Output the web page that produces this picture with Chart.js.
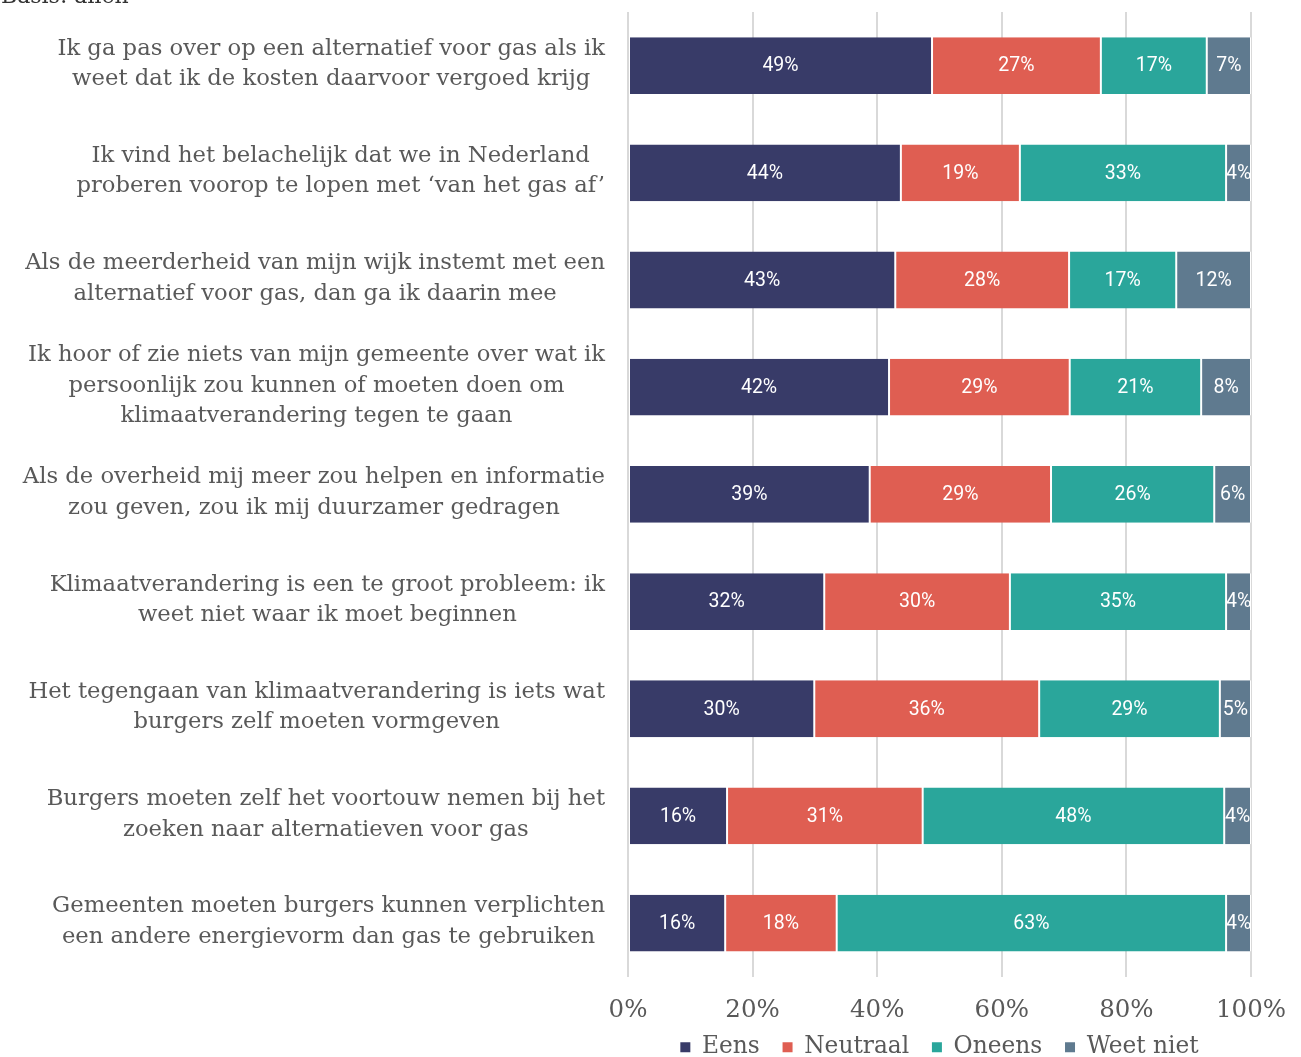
<!DOCTYPE html>
<html>
<head>
<meta charset="utf-8">
<script src="https://cdn.jsdelivr.net/npm/chart.js@4"></script>
<style>
  body { margin: 0; background: #fff; }
  #wrap { position: relative; width: 1301px; height: 1057px; overflow: hidden; }
  #box { position: absolute; left: 0; top: 0; width: 1301px; height: 1069px; }
  #basis { position: absolute; left: 1px; top: -17px; font: 22px "DejaVu Serif", serif; color: #333; }
</style>
</head>
<body>
<div id="wrap">
  <div id="box"><canvas id="chart"></canvas></div>
  <div id="basis">Basis: allen</div>
</div>
<script>
const categories = [
  ["Ik ga pas over op een alternatief voor gas als ik", "weet dat ik de kosten daarvoor vergoed krijg"],
  ["Ik vind het belachelijk dat we in Nederland", "proberen voorop te lopen met ‘van het gas af’"],
  ["Als de meerderheid van mijn wijk instemt met een", "alternatief voor gas, dan ga ik daarin mee"],
  ["Ik hoor of zie niets van mijn gemeente over wat ik", "persoonlijk zou kunnen of moeten doen om", "klimaatverandering tegen te gaan"],
  ["Als de overheid mij meer zou helpen en informatie", "zou geven, zou ik mij duurzamer gedragen"],
  ["Klimaatverandering is een te groot probleem: ik", "weet niet waar ik moet beginnen"],
  ["Het tegengaan van klimaatverandering is iets wat", "burgers zelf moeten vormgeven"],
  ["Burgers moeten zelf het voortouw nemen bij het", "zoeken naar alternatieven voor gas"],
  ["Gemeenten moeten burgers kunnen verplichten", "een andere energievorm dan gas te gebruiken"]
];

const seriesNames = ["Eens", "Neutraal", "Oneens", "Weet niet"];
const eens     = [48.8, 43.8, 42.9, 41.9, 38.8, 31.5, 29.9, 15.9, 15.6];
const neutraal = [27.1, 19.1, 27.9, 29.0, 29.1, 29.8, 36.1, 31.4, 17.9];
const oneens   = [17.0, 33.1, 17.2, 21.1, 26.2, 34.7, 29.0, 48.4, 62.5];
const weetNiet = [7.1, 4.0, 12.0, 8.0, 5.9, 4.0, 5.0, 4.3, 4.0];
const xTicks = [0, 20, 40, 60, 80, 100];

const colors = ["#383b68", "#df5e52", "#2aa69b", "#5f7a8f"];
const serif = '"DejaVu Serif", serif';
const grey = "#595959";

// value labels inside each segment, clipped to the segment
const barLabels = {
  id: "barLabels",
  afterDatasetsDraw(chart) {
    const ctx = chart.ctx;
    chart.data.datasets.forEach((ds, i) => {
      chart.getDatasetMeta(i).data.forEach((bar, j) => {
        const { x, y, base, height } = bar.getProps(["x", "y", "base", "height"], true);
        ctx.save();
        ctx.beginPath();
        ctx.rect(base, y - height / 2, x - base, height);
        ctx.clip();
        ctx.fillStyle = "#fff";
        ctx.font = "19.5px Roboto";
        ctx.textAlign = "center";
        ctx.textBaseline = "middle";
        ctx.fillText(Math.round(ds.data[j]) + "%", (base + x) / 2, y + 1);
        ctx.restore();
      });
    });
  }
};

// category labels: block right-aligned, lines centred inside the block
const yLabels = {
  id: "yLabels",
  afterDraw(chart) {
    const scale = chart.scales.y;
    const ctx = chart.ctx;
    const lineH = 30.5;
    ctx.save();
    ctx.font = "22.7px " + serif;
    ctx.fillStyle = grey;
    ctx.textAlign = "center";
    ctx.textBaseline = "middle";
    const right = scale.right - 23;
    categories.forEach((lines, i) => {
      const w = Math.max(...lines.map((l) => ctx.measureText(l).width));
      const cx = right - w / 2;
      const yc = scale.getPixelForTick(i) - 1.5;
      lines.forEach((l, k) => {
        ctx.fillText(l, cx, yc + (k - (lines.length - 1) / 2) * lineH);
      });
    });
    ctx.restore();
  }
};

const datasets = [eens, neutraal, oneens, weetNiet].map((data, i) => ({
  label: seriesNames[i],
  data: data,
  backgroundColor: colors[i],
  borderColor: "#fff",
  borderWidth: { left: 1, right: 1, top: 0, bottom: 0 },
  borderSkipped: false,
  barPercentage: 0.53,
  categoryPercentage: 1
}));

new Chart(document.getElementById("chart"), {
  type: "bar",
  data: {
    labels: categories,
    datasets: datasets
  },
  options: {
    indexAxis: "y",
    responsive: true,
    maintainAspectRatio: false,
    animation: false,
    layout: { padding: { top: 12, right: 50, left: 0, bottom: 0 } },
    scales: {
      x: {
        stacked: true,
        min: 0,
        max: 100,
        afterBuildTicks: (scale) => {
          scale.ticks = xTicks.map((v) => ({ value: v }));
        },
        afterFit: (scale) => {
          scale.height = 51;
          scale.paddingRight = 0;
          scale.paddingLeft = 0;
        },
        ticks: {
          callback: (v) => v + "%",
          font: { family: serif, size: 24.5 },
          color: grey,
          padding: 19
        },
        grid: { color: "#d9d9d9", lineWidth: 2, drawTicks: false },
        border: { display: false }
      },
      y: {
        stacked: true,
        ticks: { display: false },
        grid: { display: false },
        border: { display: false },
        afterFit: (scale) => { scale.width = 628; }
      }
    },
    plugins: {
      legend: {
        position: "bottom",
        fullSize: false,
        labels: {
          boxWidth: 10,
          boxHeight: 10,
          padding: 8,
          color: grey,
          font: { family: serif, size: 23.3 },
          generateLabels: (chart) => {
            const items = Chart.defaults.plugins.legend.labels.generateLabels(chart);
            items.forEach((it, i) => {
              if (i < items.length - 1) it.text = it.text + "  ";
              it.strokeStyle = "rgba(0,0,0,0)";
              it.lineWidth = 0;
            });
            return items;
          }
        }
      },
      tooltip: { enabled: false }
    }
  },
  plugins: [barLabels, yLabels]
});
</script>
</body>
</html>
